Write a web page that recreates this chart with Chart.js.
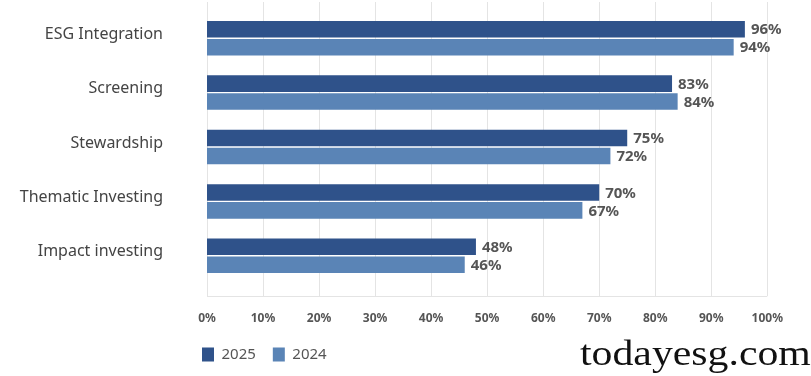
<!DOCTYPE html>
<html>
<head>
<meta charset="utf-8">
<script src="https://cdn.jsdelivr.net/npm/chart.js@4.4.1/dist/chart.umd.min.js"></script>
<style>
  html, body { margin: 0; padding: 0; background: #fff; }
  #wrap { position: relative; width: 811px; height: 376px; }
  #mark { position: absolute; left: 580px; top: 332px; font-family: "Liberation Serif", serif; font-size: 36px; color: #111; transform: scaleX(1.16); transform-origin: left top; }
</style>
</head>
<body>
<div id="wrap">
  <canvas id="esgChart" width="811" height="376"></canvas>
  <div id="mark">todayesg.com</div>
</div>
<script>
// Data for the chart
const categories = ["ESG Integration", "Screening", "Stewardship", "Thematic Investing", "Impact investing"];
const values2025 = [96, 83, 75, 70, 48];
const values2024 = [94, 84, 72, 67, 46];
const xTicks = [0, 10, 20, 30, 40, 50, 60, 70, 80, 90, 100];

const FONT = "'Noto Sans', sans-serif";

// grid lines run a little past the bar area, like the original
const gridPlugin = {
  id: 'gridPlugin',
  beforeDatasetsDraw(chart) {
    const { ctx, chartArea, scales } = chart;
    const top = chartArea.top - 9, bottom = chartArea.bottom + 13;
    ctx.save();
    ctx.strokeStyle = '#e4e4e4';
    ctx.lineWidth = 1;
    xTicks.forEach(v => {
      const x = Math.round(scales.x.getPixelForValue(v)) + 0.5;
      ctx.beginPath();
      ctx.moveTo(x, top);
      ctx.lineTo(x, bottom);
      ctx.stroke();
    });
    ctx.beginPath();
    ctx.moveTo(scales.x.getPixelForValue(0), bottom + 0.5);
    ctx.lineTo(scales.x.getPixelForValue(100), bottom + 0.5);
    ctx.stroke();
    ctx.restore();
  }
};

// value labels at the end of each bar
const valueLabels = {
  id: 'valueLabels',
  afterDatasetsDraw(chart) {
    const { ctx } = chart;
    ctx.save();
    ctx.font = "bold 15px " + FONT;
    ctx.fillStyle = '#555';
    ctx.textBaseline = 'middle';
    chart.data.datasets.forEach((ds, i) => {
      chart.getDatasetMeta(i).data.forEach((bar, j) => {
        ctx.fillText(ds.data[j] + '%', bar.x + 6, bar.y + 1);
      });
    });
    ctx.restore();
  }
};

// legend sits under the plot, starting just left of the axis
const legendShift = {
  id: 'legendShift',
  afterLayout(chart) {
    const lg = chart.legend;
    const dx = 185 - lg.left, dy = 330 - lg.top;
    lg.left += dx; lg.right += dx; lg.top += dy; lg.bottom += dy;
  }
};

const config = {
  type: 'bar',
  data: {
    labels: categories,
    datasets: [
      { label: '2025', data: values2025, backgroundColor: '#2f528a' },
      { label: '2024', data: values2024, backgroundColor: '#5a84b6' }
    ]
  },
  options: {
    indexAxis: 'y',
    responsive: false,
    animation: false,
    categoryPercentage: 0.66,
    barPercentage: 0.92,
    layout: { padding: { top: 11, right: 43, left: 0, bottom: 0 } },
    scales: {
      x: {
        min: 0,
        max: 100,
        grid: { display: false, drawTicks: false },
        border: { display: false },
        afterBuildTicks: (scale) => { scale.ticks = xTicks.map(v => ({ value: v })); },
        afterFit: (scale) => { scale.height = 51; },
        ticks: {
          padding: 28,
          color: '#555',
          font: { family: FONT, size: 12, weight: 'bold' },
          callback: (v) => v + '%'
        }
      },
      y: {
        grid: { display: false, drawTicks: false },
        border: { display: false },
        afterFit: (scale) => { scale.width = 207; scale.paddingTop = 0; scale.paddingBottom = 0; },
        ticks: {
          padding: 44,
          labelOffset: -4,
          color: '#444',
          font: { family: FONT, size: 16 }
        }
      }
    },
    plugins: {
      tooltip: { enabled: false },
      legend: {
        position: 'bottom',
        align: 'start',
        fullSize: false,
        labels: {
          boxWidth: 12,
          boxHeight: 14,
          padding: 17,
          color: '#555',
          font: { family: FONT, size: 15 }
        }
      }
    }
  },
  plugins: [gridPlugin, valueLabels, legendShift]
};

window.addEventListener('DOMContentLoaded', () => {
  const esgChart = new Chart(document.getElementById('esgChart'), config);
});
</script>
</body>
</html>
